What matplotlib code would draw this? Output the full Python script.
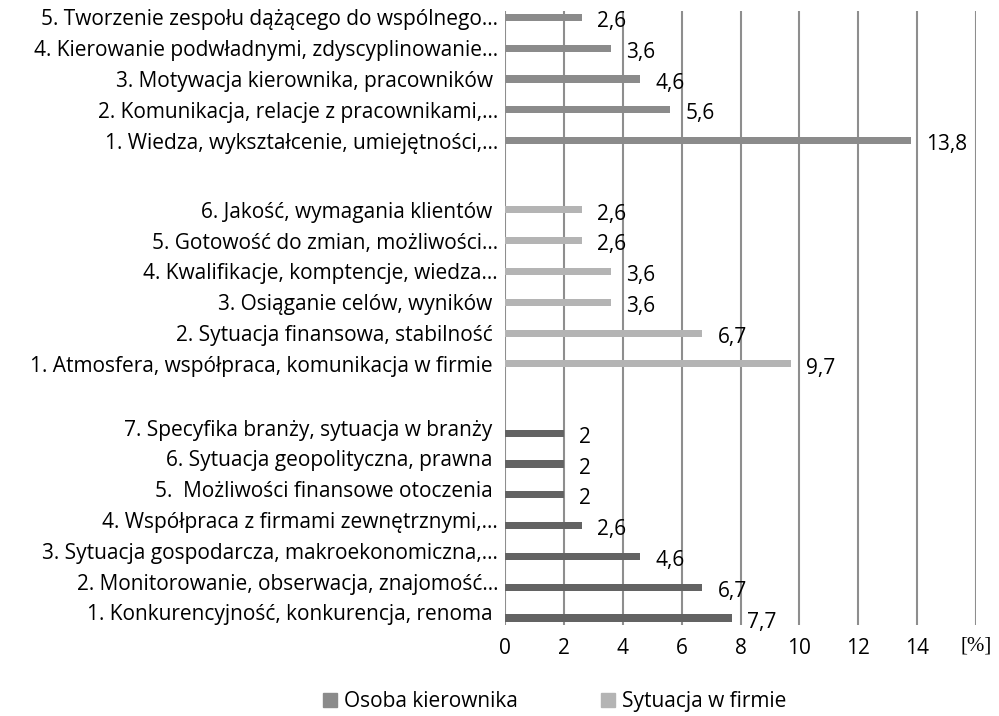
import matplotlib
matplotlib.use("Agg")
import matplotlib.pyplot as plt
from matplotlib.transforms import ScaledTranslation
from matplotlib.patches import Patch

# ---- data (bottom-to-top within each group) ----
otoczenie_labels = [
    "1. Konkurencyjność, konkurencja, renoma ",
    "2. Monitorowanie, obserwacja, znajomość…",
    "3. Sytuacja gospodarcza, makroekonomiczna,…",
    "4. Współpraca z firmami zewnętrznymi,…",
    "5.  Możliwości finansowe otoczenia ",
    "6. Sytuacja geopolityczna, prawna ",
    "7. Specyfika branży, sytuacja w branży ",
]
otoczenie_values = [7.7, 6.7, 4.6, 2.6, 2, 2, 2]

firma_labels = [
    "1. Atmosfera, współpraca, komunikacja w firmie ",
    "2. Sytuacja finansowa, stabilność ",
    "3. Osiąganie celów, wyników ",
    "4. Kwalifikacje, komptencje, wiedza…",
    "5. Gotowość do zmian, możliwości…",
    "6. Jakość, wymagania klientów ",
]
firma_values = [9.7, 6.7, 3.6, 3.6, 2.6, 2.6]

kierownik_labels = [
    "1. Wiedza, wykształcenie, umiejętności,…",
    "2. Komunikacja, relacje z pracownikami,…",
    "3. Motywacja kierownika, pracowników ",
    "4. Kierowanie podwładnymi, zdyscyplinowanie…",
    "5. Tworzenie zespołu dążącego do wspólnego…",
]
kierownik_values = [13.8, 5.6, 4.6, 3.6, 2.6]

series_names = ["Osoba kierownika", "Sytuacja w firmie"]
x_ticks = [0, 2, 4, 6, 8, 10, 12, 14]
x_unit = "[%]"

# ---- style ----
FONT = "Open Sans"
FS = 15
c_otoczenie = "#636363"
c_firma = "#b4b4b4"
c_kier = "#8b8b8b"
grid_c = "#8e8e8e"

plt.rcParams["font.family"] = [FONT, "DejaVu Sans"]

fig = plt.figure(figsize=(9.99, 7.16), dpi=100)
W, H = 999, 716
x0, x1 = 505, 976
ytop, ybot = 11, 625
ax = fig.add_axes([x0 / W, 1 - ybot / H, (x1 - x0) / W, (ybot - ytop) / H])

gap = 2.25
pos_ot = [i for i in range(len(otoczenie_values))]
start_f = pos_ot[-1] + gap
pos_f = [start_f + i for i in range(len(firma_values))]
start_k = pos_f[-1] + gap
pos_k = [start_k + i for i in range(len(kierownik_values))]

bh = 0.23
groups = [
    (pos_ot, otoczenie_values, c_otoczenie),
    (pos_f, firma_values, c_firma),
    (pos_k, kierownik_values, c_kier),
]

def fmt(v):
    s = f"{v:.1f}"
    if s.endswith(".0"):
        s = s[:-2]
    return s.replace(".", ",")

lab_off = ScaledTranslation(11 / 72, -3 / 72, fig.dpi_scale_trans)
for pos, vals, col in groups:
    ax.barh(pos, vals, height=bh, color=col, zorder=3)
    for p, v in zip(pos, vals):
        ax.text(v, p, fmt(v), ha="left", va="center", fontsize=FS,
                color="black", transform=ax.transData + lab_off, zorder=4)

ax.set_xlim(0, 16)
ax.set_ylim(-(625 - 618) / 30.8, (618 - 11) / 30.8)

# vertical gridlines
for gx in range(0, 17, 2):
    ax.axvline(gx, color=grid_c, lw=1.5, zorder=1)

ax.set_yticks(pos_ot + pos_f + pos_k)
ax.set_yticklabels(otoczenie_labels + firma_labels + kierownik_labels, fontsize=FS)
ax.tick_params(axis="y", length=0, pad=5)
shift = ScaledTranslation(0, 4 / 72, fig.dpi_scale_trans)
for lbl in ax.get_yticklabels()[:len(otoczenie_labels)]:
    lbl.set_transform(lbl.get_transform() + shift)

ax.set_xticks(x_ticks + [16])
ax.set_xticklabels([str(t) for t in x_ticks] + [""], fontsize=FS)
ax.tick_params(axis="x", length=0, pad=9)
ax.text(16, -0.018, x_unit, transform=ax.get_xaxis_transform(), ha="center",
        va="top", fontsize=FS, family="Liberation Serif")

for s in ax.spines.values():
    s.set_visible(False)

handles = [Patch(color=c_kier), Patch(color=c_firma)]
fig.legend(handles, series_names, loc="center", bbox_to_anchor=(0.555, 0.02),
           ncol=2, frameon=False, fontsize=FS, handlelength=0.7, handleheight=0.7,
           handletextpad=0.3, columnspacing=4.0, borderpad=0.1)

fig.savefig("out.png", dpi=100)
